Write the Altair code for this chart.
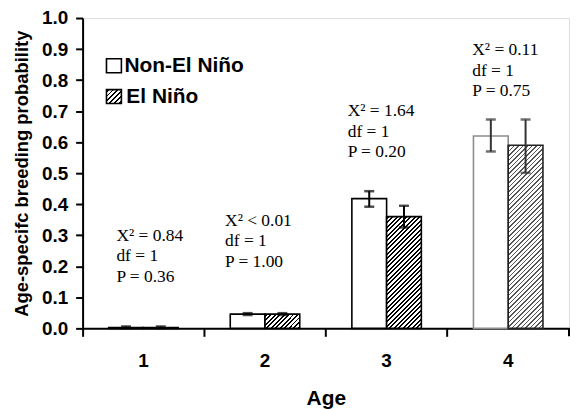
import math
import altair as alt
import pandas as pd

# ---------------- data ----------------
ages = ["1", "2", "3", "4"]
conditions = ["Non-El Niño", "El Niño"]
non_el_value = [0.003, 0.046, 0.418, 0.620]
non_el_lo = [0.001, 0.043, 0.392, 0.570]
non_el_hi = [0.006, 0.049, 0.442, 0.673]
el_value = [0.003, 0.046, 0.360, 0.590]
el_lo = [0.001, 0.043, 0.325, 0.501]
el_hi = [0.006, 0.049, 0.395, 0.673]
ann_text = [
    "X² = 0.84\ndf = 1\nP = 0.36",
    "X² < 0.01\ndf = 1\nP = 1.00",
    "X² = 1.64\ndf = 1\nP = 0.20",
    "X² = 0.11\ndf = 1\nP = 0.75",
]
ann_y = [0.282, 0.330, 0.683, 0.880]   # annotation anchors (first-line baseline, data units)
y_ticks = [round(i * 0.1, 1) for i in range(11)]

# ---------------- layout / style ----------------
W, H = 489, 312
SANS = "Liberation Sans"
SERIF = "Liberation Serif"
BAR_W = 35.0
ann_dx = [34, 21, 22, 25]

rows = []
for i, a in enumerate(ages):
    rows.append(dict(age=a, cond=conditions[0], value=non_el_value[i], lo=non_el_lo[i], hi=non_el_hi[i]))
    rows.append(dict(age=a, cond=conditions[1], value=el_value[i], lo=el_lo[i], hi=el_hi[i]))
df = pd.DataFrame(rows)


def hatch(w, h, color="black", period=3.2, lw=1.3):
    r = w / h
    k = (r + 1) / (r * r + 1)
    x2, y2 = k * r, k
    D = (w + h) / math.sqrt(2)
    stops = [{"offset": 0, "color": "white"}]
    i = 0
    while True:
        s = (i * period + 0.8) / D
        e = (i * period + 0.8 + lw) / D
        if s >= 1:
            break
        e = min(e, 1)
        stops += [
            {"offset": s, "color": "white"},
            {"offset": s, "color": color},
            {"offset": e, "color": color},
            {"offset": e, "color": "white"},
        ]
        i += 1
    stops.append({"offset": 1, "color": "white"})
    return {"gradient": "linear", "x1": 0, "y1": 0, "x2": x2, "y2": y2, "stops": stops}


x_axis = alt.Axis(
    bandPosition=0, labelAngle=0, tickSize=8, tickWidth=2, domainWidth=2,
    domainColor="black", tickColor="black", labelColor="black",
    labelFont=SANS, labelFontSize=19, labelFontWeight="bold", labelPadding=15,
    title="Age", titleFont=SANS, titleFontSize=21, titleFontWeight="bold",
    titleColor="black", titlePadding=18,
)
y_axis = alt.Axis(
    values=y_ticks, format=".1f", grid=False, tickSize=7, tickWidth=2,
    domainWidth=2, domainColor="black", tickColor="black", labelColor="black",
    labelFont=SANS, labelFontSize=19, labelFontWeight="bold", labelPadding=8,
    labelOverlap=False,
    title="Age-specifc breeding probability", titleFont=SANS, titleFontSize=18.5,
    titleFontWeight="bold", titleColor="black", titlePadding=10,
)
x_scale = alt.Scale(domain=ages, paddingInner=0, paddingOuter=0)
y_scale = alt.Scale(domain=[0, 1], nice=False)


def xe():
    return alt.X("age:N", scale=x_scale, axis=x_axis)


def ye(field):
    return alt.Y(f"{field}:Q", scale=y_scale, axis=y_axis)


xoff_enc = alt.XOffset(
    "cond:N", scale=alt.Scale(domain=conditions, paddingInner=0, paddingOuter=0.75)
)

base = alt.Chart(df)
stroke_cond = alt.condition("datum.age == '4'", alt.value("#8c8c8c"), alt.value("black"))

non_bars = base.transform_filter(f"datum.cond == '{conditions[0]}'").mark_bar(
    fill="white", strokeWidth=1.6
).encode(x=xe(), xOffset=xoff_enc, y=ye("value"), stroke=stroke_cond)

layers = [non_bars]
for i, a in enumerate(ages):
    h = max(el_value[i] * H, 0.5)
    col = "#555555" if a == "4" else "black"
    layers.append(
        base.transform_filter(f"datum.cond == '{conditions[1]}' && datum.age == '{a}'")
        .mark_bar(fill=hatch(BAR_W, h, col), strokeWidth=1.6, stroke="#222222" if a == "4" else "black")
        .encode(x=xe(), xOffset=xoff_enc, y=ye("value"))
    )

err_color = alt.condition("datum.age == '4'", alt.value("#333333"), alt.value("black"))
err_rule = base.mark_rule(strokeWidth=2).encode(
    x=xe(), xOffset=xoff_enc, y=ye("lo"), y2="hi:Q", color=err_color,
)
cap_lo = base.mark_tick(size=10, thickness=2.5).encode(
    x=xe(), xOffset=xoff_enc, y=ye("lo"), color=err_color,
)
cap_hi = base.mark_tick(size=10, thickness=2.5).encode(
    x=xe(), xOffset=xoff_enc, y=ye("hi"), color=err_color,
)
layers += [err_rule, cap_lo, cap_hi]

ann_df = pd.DataFrame({"age": ages, "text": ann_text, "value": ann_y})
for i, a in enumerate(ages):
    layers.append(
        alt.Chart(ann_df[ann_df.age == a])
        .mark_text(font=SERIF, fontSize=17.5, align="left", baseline="alphabetic",
                   lineBreak="\n", lineHeight=20.5, dx=ann_dx[i], color="black")
        .encode(x=alt.X("age:N", bandPosition=0, scale=x_scale, axis=x_axis),
                y=ye("value"), text="text:N")
    )

# end tick at the right of the x axis
layers.append(
    alt.Chart(pd.DataFrame({"a": [0]})).mark_rule(color="black", strokeWidth=2)
    .encode(x=alt.value(W), y=alt.value(H), y2=alt.value(H + 8))
)

# legend (manual)
leg = alt.Chart(pd.DataFrame({"a": [0]}))
layers.append(leg.mark_rect(fill="white", stroke="black", strokeWidth=1.6).encode(
    x=alt.value(24), x2=alt.value(39), y=alt.value(41), y2=alt.value(55)))
layers.append(leg.mark_rect(fill=hatch(15, 14, "black", period=3.4, lw=1.4), stroke="black", strokeWidth=1.6).encode(
    x=alt.value(24), x2=alt.value(39), y=alt.value(72), y2=alt.value(86)))
layers.append(leg.mark_text(font=SANS, fontSize=21, fontWeight="bold", align="left",
                            baseline="alphabetic", color="black").encode(
    x=alt.value(42), y=alt.value(54.5), text=alt.value(conditions[0])))
layers.append(leg.mark_text(font=SANS, fontSize=21, fontWeight="bold", align="left",
                            baseline="alphabetic", color="black").encode(
    x=alt.value(44), y=alt.value(85), text=alt.value(conditions[1])))

chart = alt.layer(*layers).properties(
    width=W, height=H, padding={"left": 4, "top": 0, "right": 0, "bottom": 0}
).configure_view(stroke=None).configure(background="white")

chart.save("out.html", embed_options={"renderer": "svg", "actions": False})
